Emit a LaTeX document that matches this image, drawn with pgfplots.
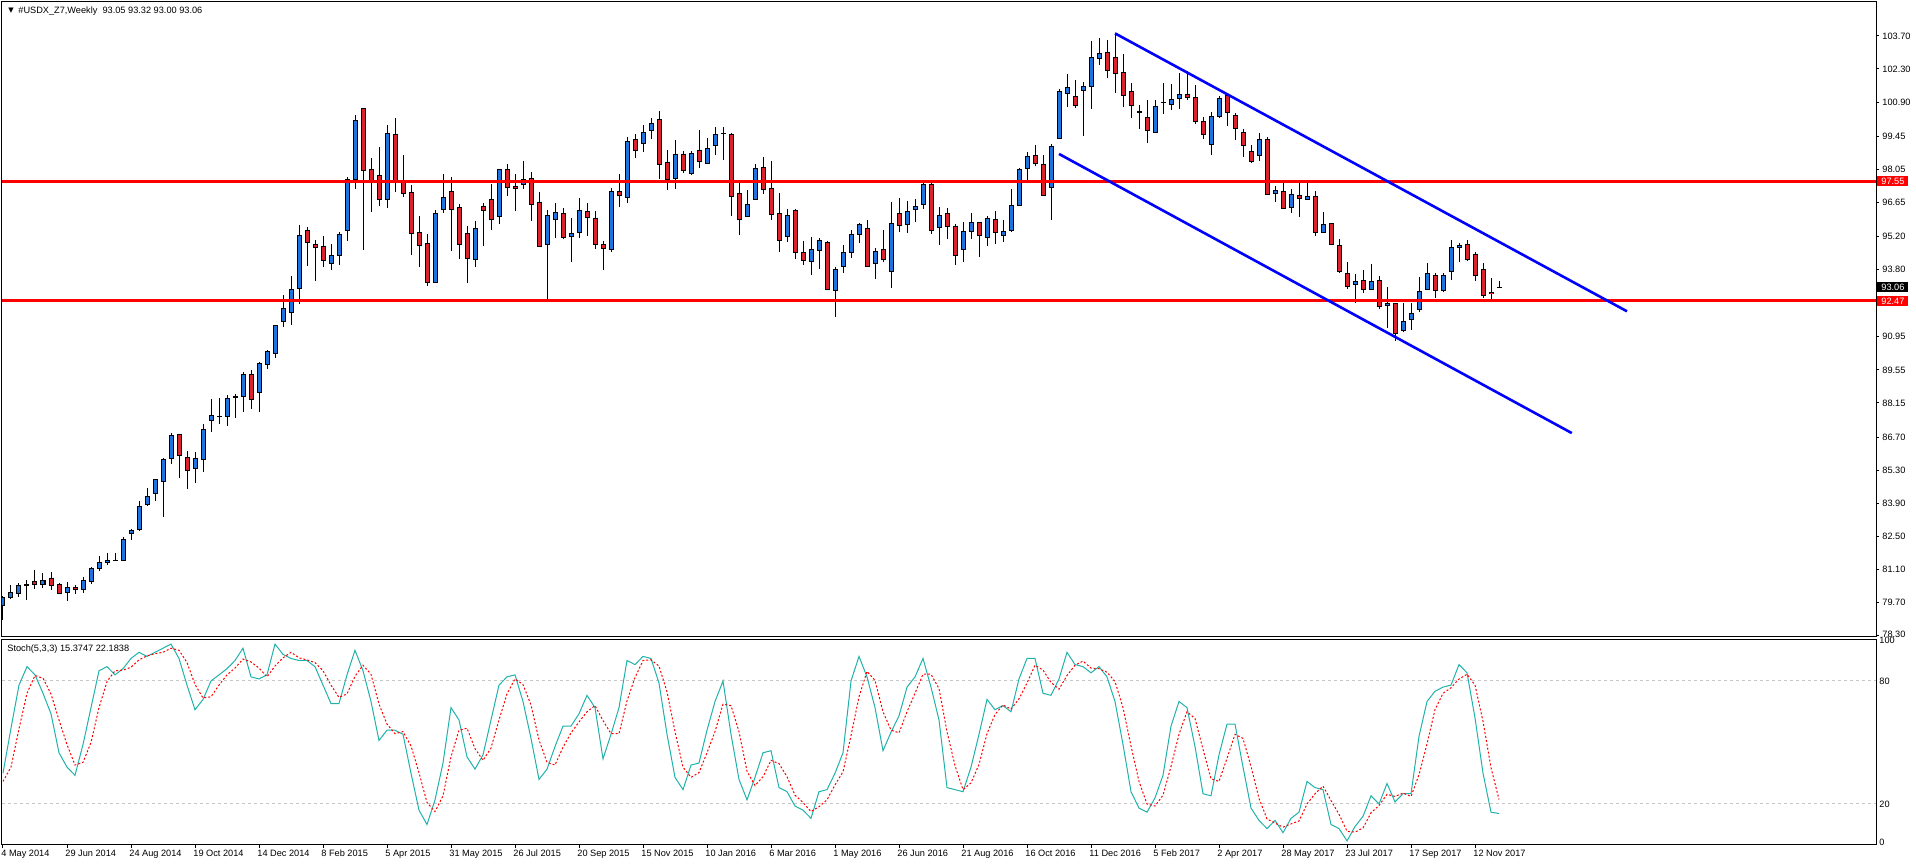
\documentclass[border=0pt]{standalone}
\usepackage{fontspec}
\setmainfont{Liberation Sans}
\newfontfamily\dejavu{DejaVu Sans}
\usepackage{pgfplots}
\usepackage{pgfplotstable}
\pgfplotsset{compat=1.18}
\definecolor{bull}{RGB}{30,115,220}
\definecolor{bear}{RGB}{220,35,45}
\definecolor{stk}{RGB}{32,178,170}
\newcommand{\tf}{\fontsize{4.6}{5.5}\selectfont}

\pgfplotstableread{
i o h l c
0 79.56 79.97 78.93 79.91
1 79.90 80.44 79.84 80.13
2 80.07 80.52 79.94 80.42
3 80.44 80.65 79.80 80.46
4 80.59 81.07 80.27 80.46
5 80.45 80.95 80.32 80.63
6 80.72 80.99 80.22 80.41
7 80.46 80.51 80.07 80.08
8 80.13 80.56 79.77 80.34
9 80.34 80.44 80.03 80.25
10 80.25 80.78 80.11 80.63
11 80.58 81.20 80.49 81.14
12 81.14 81.67 81.04 81.40
13 81.40 81.79 81.30 81.48
14 81.47 81.79 81.43 81.49
15 81.48 82.48 81.47 82.37
16 82.63 82.81 82.32 82.75
17 82.78 83.99 82.70 83.77
18 83.85 84.53 83.80 84.19
19 84.32 84.94 84.01 84.91
20 84.83 85.82 83.33 85.76
21 85.80 86.86 85.54 86.78
22 86.82 86.83 84.98 85.93
23 85.85 86.11 84.52 85.30
24 85.38 86.06 84.77 85.80
25 85.76 87.26 85.24 87.03
26 87.41 88.32 86.93 87.63
27 87.58 88.36 87.27 87.59
28 87.58 88.49 87.19 88.35
29 88.40 88.53 87.53 88.41
30 88.43 89.46 87.78 89.36
31 89.36 89.55 87.91 88.30
32 88.60 89.89 87.78 89.83
33 89.79 90.39 89.57 90.31
34 90.25 91.45 90.04 91.41
35 91.61 92.72 91.38 92.15
36 91.99 93.53 91.47 92.96
37 93.01 95.68 92.33 95.25
38 95.46 95.59 93.93 94.96
39 94.87 95.05 93.33 94.74
40 94.79 95.22 93.92 94.19
41 94.07 94.89 93.80 94.41
42 94.41 95.38 94.01 95.30
43 95.46 97.71 95.03 97.63
44 97.63 100.34 97.23 100.13
45 100.63 100.65 94.65 98.01
46 98.05 98.52 96.26 97.50
47 97.80 98.98 96.51 96.78
48 96.78 99.91 96.42 99.57
49 99.53 100.21 97.10 97.58
50 97.54 98.64 96.86 97.03
51 97.07 97.37 94.43 95.34
52 95.38 96.07 93.92 94.83
53 94.91 95.31 93.12 93.26
54 93.26 96.31 93.25 96.18
55 96.35 97.84 96.21 96.86
56 97.12 97.71 94.60 96.35
57 96.44 96.57 94.26 94.87
58 95.34 95.63 93.25 94.28
59 94.24 95.85 93.92 95.55
60 96.48 96.61 94.81 96.31
61 96.78 97.41 95.49 95.93
62 96.06 98.06 95.72 98.05
63 98.05 98.26 96.90 97.29
64 97.33 97.84 96.30 97.24
65 97.41 98.39 97.20 97.63
66 97.67 97.92 95.87 96.57
67 96.65 97.07 94.77 94.79
68 94.87 96.31 92.48 96.10
69 95.93 96.61 95.15 96.23
70 96.18 96.40 95.08 95.17
71 95.21 95.99 94.14 95.34
72 95.38 96.82 95.13 96.31
73 96.27 96.61 95.24 96.02
74 95.97 96.27 94.69 94.87
75 94.87 95.00 93.80 94.70
76 94.66 97.24 94.56 97.12
77 97.12 97.84 96.47 96.95
78 96.86 99.40 96.64 99.24
79 99.32 99.53 98.52 98.85
80 99.15 99.91 98.77 99.62
81 99.70 100.21 99.32 100.00
82 100.17 100.51 97.62 98.26
83 98.35 98.85 97.16 97.63
84 97.67 99.28 97.20 98.69
85 98.69 98.81 97.88 98.01
86 97.88 98.81 97.80 98.73
87 98.85 99.70 98.09 98.39
88 98.30 99.36 98.26 98.94
89 99.07 99.83 98.64 99.53
90 99.57 99.83 98.43 99.58
91 99.53 99.57 96.06 96.90
92 97.03 97.46 95.25 95.93
93 96.06 97.16 96.02 96.57
94 96.78 98.26 96.74 98.09
95 98.13 98.56 96.99 97.20
96 97.24 98.39 95.89 96.14
97 96.18 97.03 94.56 95.04
98 95.21 96.35 94.98 96.10
99 96.31 96.35 94.24 94.53
100 94.53 95.00 93.98 94.19
101 94.15 95.17 93.56 94.66
102 94.62 95.13 93.81 95.04
103 94.96 95.00 92.92 92.96
104 92.92 93.90 91.81 93.81
105 93.94 94.83 93.64 94.53
106 94.53 95.46 94.28 95.30
107 95.30 95.76 94.91 95.72
108 95.55 95.89 93.92 93.94
109 94.07 94.70 93.39 94.57
110 94.66 95.46 94.11 94.24
111 93.73 96.65 93.01 95.76
112 96.18 96.82 95.41 95.68
113 95.72 96.69 95.34 96.27
114 96.35 96.78 95.80 96.48
115 96.57 97.48 96.38 97.41
116 97.41 97.46 95.29 95.46
117 95.59 96.44 94.86 96.10
118 96.18 96.40 95.11 95.63
119 95.63 95.72 94.01 94.39
120 94.66 95.80 94.14 95.42
121 95.42 96.18 95.11 95.80
122 95.80 95.82 94.35 95.25
123 95.17 96.06 94.81 95.97
124 95.93 96.27 94.90 95.38
125 95.25 95.89 94.98 95.42
126 95.46 97.20 95.38 96.52
127 96.52 98.09 96.48 98.05
128 98.09 98.77 97.58 98.60
129 98.64 99.07 98.17 98.30
130 98.26 98.64 96.93 96.95
131 97.29 99.11 95.89 99.02
132 99.36 101.44 99.36 101.35
133 101.27 102.07 100.68 101.52
134 101.14 101.82 100.63 100.76
135 101.40 101.74 99.45 101.57
136 101.57 103.47 100.59 102.79
137 102.75 103.60 102.46 102.96
138 103.01 103.51 101.90 102.24
139 102.79 103.81 101.27 102.12
140 102.16 102.92 100.68 101.18
141 101.35 101.69 100.21 100.76
142 100.50 100.76 99.74 100.49
143 100.25 100.97 99.15 99.70
144 99.62 100.97 99.57 100.72
145 100.88 101.69 100.38 100.89
146 100.80 101.65 100.55 101.01
147 101.06 102.12 100.59 101.23
148 101.23 102.20 100.97 101.10
149 101.10 101.61 99.96 100.08
150 100.08 100.25 99.32 99.53
151 99.11 100.46 98.64 100.29
152 100.29 101.14 100.21 101.06
153 101.18 101.27 99.87 100.46
154 100.34 100.42 99.28 99.79
155 99.60 99.75 98.56 99.05
156 98.81 99.10 98.30 98.37
157 98.63 99.60 98.42 99.30
158 99.30 99.40 96.95 96.99
159 97.03 97.33 96.68 97.16
160 97.12 97.46 96.35 96.40
161 96.44 97.20 96.18 96.99
162 96.95 97.46 96.01 96.82
163 96.78 97.46 96.74 96.90
164 96.90 97.12 95.21 95.38
165 95.38 96.23 95.34 95.72
166 95.76 95.77 94.86 94.87
167 94.83 95.08 93.64 93.73
168 93.64 94.11 92.96 93.09
169 93.18 93.60 92.37 93.30
170 93.35 93.77 92.80 92.96
171 92.96 94.03 92.95 93.30
172 93.35 93.52 92.12 92.24
173 92.29 93.06 91.31 92.37
174 92.37 92.39 90.76 91.10
175 91.23 92.39 91.14 91.61
176 91.69 92.39 91.23 91.95
177 92.12 93.47 91.99 92.88
178 92.96 94.07 92.95 93.64
179 93.56 93.64 92.58 92.92
180 92.92 93.64 92.87 93.56
181 93.73 95.05 93.35 94.74
182 94.74 94.92 94.11 94.83
183 94.87 95.05 94.15 94.24
184 94.45 94.53 93.30 93.56
185 93.81 94.07 92.58 92.71
186 92.84 93.43 92.50 92.79
187 93.05 93.32 93.00 93.06
}\ohlc

\pgfplotstableread{
i k d
0 35 31
1 57 38
2 78 56.7
3 87 74
4 83 82.7
5 74 81.3
6 64 73.7
7 45 61
8 38 49
9 34 39
10 49 40.3
11 67 50
12 85 67
13 87 79.7
14 83 85
15 86 85.3
16 91 86.7
17 94 90.3
18 92 92.3
19 94 93.3
20 96 94
21 98 96
22 91 95
23 78 89
24 66 78.3
25 71 71.7
26 80 72.3
27 83 78
28 86 83
29 90 86.3
30 96 90.7
31 82 89.3
32 81 86.3
33 83 82
34 98 87.3
35 93 91.3
36 91 94
37 90 91.3
38 90 90.3
39 87 89
40 78 85
41 69 78
42 69 72
43 83 73.7
44 95 82.3
45 85 87.7
46 70 83.3
47 51 68.7
48 56 59
49 56 54.3
50 54 55.3
51 35 48.3
52 17 35.3
53 10 20.7
54 22 16.3
55 40 24
56 67 43
57 61 56
58 43 57
59 37 47
60 44 41.3
61 61 47.3
62 78 61
63 82 73.7
64 83 81
65 70 78.3
66 52 68.3
67 32 51.3
68 37 40.3
69 48 39
70 58 47.7
71 58 54.7
72 64 60
73 73 65
74 67 68
75 42 60.7
76 54 54.3
77 67 54.3
78 90 70.3
79 88 81.7
80 92 90
81 91 90.3
82 79 87.3
83 54 74.7
84 33 55.3
85 27 38
86 39 33
87 40 35.3
88 56 45
89 70 55.3
90 80 68.7
91 54 68
92 32 55.3
93 22 36
94 33 29
95 45 33.3
96 46 41.3
97 28 39.7
98 26 33.3
99 19 24.3
100 17 20.7
101 13 16.3
102 26 18.7
103 27 22
104 35 29.3
105 45 35.7
106 80 53.3
107 92 72.3
108 82 84.7
109 67 80.3
110 46 65
111 55 56
112 63 54.7
113 77 65
114 82 74
115 91 83.3
116 77 83.3
117 61 76.3
118 28 55.3
119 27 38.7
120 26 27
121 38 30.3
122 54 39.3
123 71 54.3
124 66 63.7
125 68 68.3
126 65 66.3
127 81 71.3
128 91 79
129 91 87.7
130 74 85.3
131 73 79.3
132 81 76
133 94 82.7
134 88 87.7
135 87 89.7
136 84 86.3
137 87 86
138 82 84.3
139 70 79.7
140 49 67
141 26 48.3
142 18 31
143 16 20
144 23 19
145 34 24.3
146 58 38.3
147 70 54
148 67 65
149 48 61.7
150 25 46.7
151 24 32.3
152 44 31
153 59 42.3
154 59 54
155 38 52
156 18 38.3
157 12 22.7
158 8 12.7
159 12 10.7
160 6 8.7
161 13 10.3
162 16 11.7
163 31 20
164 28 25
165 27 28.7
166 10 21.7
167 8 15
168 2 6.7
169 9 6.3
170 14 8.3
171 24 15.7
172 20 19.3
173 30 24.7
174 21 23.7
175 25 25.3
176 25 23.7
177 53 34.3
178 70 49.3
179 75 66
180 77 74
181 78 76.7
182 88 81
183 84 83.3
184 62 78
185 35 60.3
186 16 37.7
187 15.37 22.18
}\stoch

\begin{document}
\begin{tikzpicture}
\path[use as bounding box] (0,0) rectangle (958pt,433pt);
\begin{axis}[
  at={(1pt,114.75pt)}, anchor=south west, scale only axis,
  width=937pt, height=317.25pt,
  xmin=-0.125, xmax=234.125, ymin=78.25, ymax=105.14,
  axis line style={line width=0.5pt, black},
  xtick=\empty,
  ytick pos=right, yticklabel pos=right,
  ytick={78.30,79.70,81.10,82.50,83.90,85.30,86.70,88.15,89.55,90.95,93.80,95.20,96.65,98.05,99.45,100.90,102.30,103.70},
  yticklabels={\raisebox{0.6pt}{78.30},79.70,81.10,82.50,83.90,85.30,86.70,88.15,89.55,90.95,93.80,95.20,96.65,98.05,99.45,100.90,102.30,103.70},
  tick align=outside, major tick length=1.5pt,
  tick style={line width=0.5pt, black},
  yticklabel style={font=\tf, anchor=west, inner sep=0pt, xshift=1.5pt},
  clip mode=individual,
]
% wicks
\addplot[draw=none, forget plot, error bars/.cd, y dir=both, y explicit, error mark=none,
  error bar style={draw=black, line width=0.5pt}]
  table[x=i, y=c, y error plus expr={\thisrow{h}-\thisrow{c}}, y error minus expr={\thisrow{c}-\thisrow{l}}] {\ohlc};
% body outlines
\addplot[draw=none, forget plot, error bars/.cd, y dir=both, y explicit, error mark=none,
  error bar style={draw=black, line width=2.5pt}]
  table[x=i, y expr={(\thisrow{o}+\thisrow{c})/2}, y error expr={abs(\thisrow{c}-\thisrow{o})/2+0.021}] {\ohlc};
% bull fill
\addplot[draw=none, forget plot, restrict expr to domain={\thisrow{c}-\thisrow{o}}{0:100},
  error bars/.cd, y dir=both, y explicit, error mark=none,
  error bar style={draw=bull, line width=1.5pt}]
  table[x=i, y expr={(\thisrow{o}+\thisrow{c})/2}, y error expr={max(abs(\thisrow{c}-\thisrow{o})/2-0.021,0)}] {\ohlc};
% bear fill
\addplot[draw=none, forget plot, restrict expr to domain={\thisrow{c}-\thisrow{o}}{-100:-0.00001},
  error bars/.cd, y dir=both, y explicit, error mark=none,
  error bar style={draw=bear, line width=1.5pt}]
  table[x=i, y expr={(\thisrow{o}+\thisrow{c})/2}, y error expr={max(abs(\thisrow{c}-\thisrow{o})/2-0.021,0)}] {\ohlc};
% horizontal levels
\addplot[red, line width=1.5pt] coordinates {(-1,97.55) (240,97.55)};
\addplot[red, line width=1.5pt] coordinates {(-1,92.47) (240,92.47)};
% channel
\addplot[blue, line width=1.3pt] coordinates {(139,103.81) (203,92.03)};
\addplot[blue, line width=1.3pt] coordinates {(132,98.70) (196.1,86.87)};
% price boxes
\node[fill=red, text=white, font=\tf, anchor=west, inner xsep=1.5pt, inner ysep=0pt, minimum height=5pt, minimum width=15.5pt, align=left, xshift=0.5pt] at (axis cs:234.125,97.55) {97.55};
\node[fill=red, text=white, font=\tf, anchor=west, inner xsep=1.5pt, inner ysep=0pt, minimum height=5pt, minimum width=15.5pt, align=left, xshift=0.5pt] at (axis cs:234.125,92.47) {92.47};
\node[fill=black, text=white, font=\tf, anchor=west, inner xsep=1.5pt, inner ysep=0pt, minimum height=5pt, minimum width=15.5pt, align=left, xshift=0.5pt] at (axis cs:234.125,93.06) {93.06};
% title
\node[anchor=center, inner sep=0pt, font={\dejavu\fontsize{3.5}{4}\selectfont}] at ([xshift=4.5pt,yshift=-4.5pt]rel axis cs:0,1) {▼};
\node[anchor=west, inner sep=0pt, font=\tf] at ([xshift=8pt,yshift=-4.5pt]rel axis cs:0,1) {\#USDX\_Z7,Weekly\ \ 93.05 93.32 93.00 93.06};
\end{axis}

\begin{axis}[
  at={(1pt,10.5pt)}, anchor=south west, scale only axis,
  width=937pt, height=102.5pt,
  xmin=-0.125, xmax=234.125, ymin=0, ymax=100,
  axis line style={line width=0.5pt, black},
  xtick={0,8,...,184},
  xticklabels={4 May 2014,29 Jun 2014,24 Aug 2014,19 Oct 2014,14 Dec 2014,8 Feb 2015,5 Apr 2015,31 May 2015,26 Jul 2015,20 Sep 2015,15 Nov 2015,10 Jan 2016,6 Mar 2016,1 May 2016,26 Jun 2016,21 Aug 2016,16 Oct 2016,11 Dec 2016,5 Feb 2017,2 Apr 2017,28 May 2017,23 Jul 2017,17 Sep 2017,12 Nov 2017},
  xtick pos=bottom, ytick pos=right, yticklabel pos=right,
  ytick={0,20,80,100},
  yticklabels={\raisebox{3pt}{0},20,80,\raisebox{-3.5pt}{100}},
  ymajorgrids, grid style={line width=0.5pt, gray!45, dash pattern=on 1.5pt off 1.5pt},
  tick align=outside, major tick length=1.5pt,
  tick style={line width=0.5pt, black},
  ytick style={draw=none},
  yticklabel style={font=\tf, anchor=west, inner sep=0pt, xshift=0pt},
  xticklabel style={font=\tf, anchor=north west, inner sep=0pt, text height=3.4pt, text depth=1pt, xshift=-1pt, yshift=-0.5pt},
  clip mode=individual,
]
\addplot[stk, line width=0.5pt] table[x=i, y=k] {\stoch};
\addplot[red, line width=0.5pt, dash pattern=on 1pt off 1pt] table[x=i, y=d] {\stoch};
\node[anchor=west, inner sep=0pt, font=\tf] at ([xshift=2.5pt,yshift=-4.5pt]rel axis cs:0,1) {Stoch(5,3,3) 15.3747 22.1838};
\end{axis}
\end{tikzpicture}
\end{document}
